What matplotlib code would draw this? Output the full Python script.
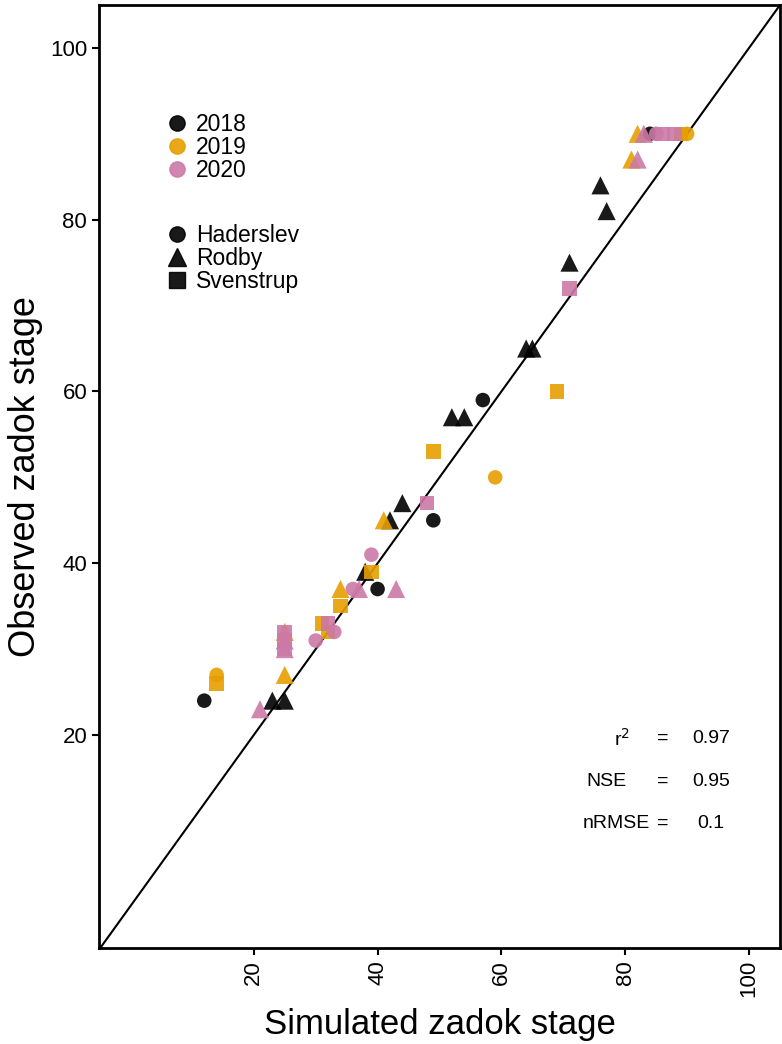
import matplotlib.pyplot as plt
from matplotlib.lines import Line2D

# simulated vs observed zadok stage, one list per year and site
h18_sim = [12, 40, 49, 57, 84]
h18_obs = [24, 37, 45, 59, 90]
r18_sim = [23, 25, 38, 42, 44, 52, 54, 64, 65, 71, 76, 77]
r18_obs = [24, 24, 39, 45, 47, 57, 57, 65, 65, 75, 84, 81]

h19_sim = [14, 59, 90]
h19_obs = [27, 50, 90]
r19_sim = [25, 25, 34, 41, 82, 81]
r19_obs = [32, 27, 37, 45, 90, 87]
s19_sim = [14, 31, 32, 34, 39, 49, 69, 89]
s19_obs = [26, 33, 32, 35, 39, 53, 60, 90]

h20_sim = [30, 33, 36, 39, 85]
h20_obs = [31, 32, 37, 41, 90]
r20_sim = [21, 25, 25, 37, 43, 83, 82]
r20_obs = [23, 31, 30, 37, 37, 90, 87]
s20_sim = [25, 25, 25, 32, 48, 71, 86, 88]
s20_obs = [32, 31, 30, 33, 47, 72, 90, 90]

years = ["2018", "2019", "2020"]
year_colors = ["#000000", "#E69F00", "#CC79A7"]
sites = ["Haderslev", "Rodby", "Svenstrup"]
site_markers = ["o", "^", "s"]

stat_names = ["r$^2$", "NSE", "nRMSE"]
stat_values = ["0.97", "0.95", "0.1"]

series = [
    (h18_sim, h18_obs, 0, 0), (r18_sim, r18_obs, 0, 1),
    (h19_sim, h19_obs, 1, 0), (r19_sim, r19_obs, 1, 1), (s19_sim, s19_obs, 1, 2),
    (h20_sim, h20_obs, 2, 0), (r20_sim, r20_obs, 2, 1), (s20_sim, s20_obs, 2, 2),
]
sizes = {"o": 110, "^": 170, "s": 110}

plt.rcParams['font.family'] = ['Liberation Sans', 'DejaVu Sans']

fig = plt.figure(figsize=(7.82, 10.44), dpi=100)
ax = fig.add_axes([99 / 782, 96 / 1044, 681 / 782, 943 / 1044])

for sim, obs, yi, si in series:
    m = site_markers[si]
    ax.scatter(sim, obs, marker=m, s=sizes[m], color=year_colors[yi],
               alpha=0.9, edgecolors='none', zorder=3)

ax.axline((0, 0), slope=1, color='black', lw=1.5, zorder=2)

ax.set_xlim(-5, 105)
ax.set_ylim(-4.8, 105)
ax.set_xticks([20, 40, 60, 80, 100])
ax.set_yticks([20, 40, 60, 80, 100])
ax.tick_params(axis='both', length=5, width=1.5, labelsize=16, color='black')
ax.tick_params(axis='x', labelrotation=90)
for sp in ax.spines.values():
    sp.set_linewidth(2)

ax.set_xlabel("Simulated zadok stage", fontsize=25, labelpad=8)
ax.set_ylabel("Observed zadok stage", fontsize=26, labelpad=5)

# stats block
stat_y = [19.6, 14.6, 9.7]
stat_x = [78.2, 73.7, 73.2]
for name, val, x, y in zip(stat_names, stat_values, stat_x, stat_y):
    ax.text(x, y, name, ha='left', va='center', fontsize=14)
    ax.text(86.0, y, "=", ha='center', va='center', fontsize=14)
    ax.text(93.9, y, val, ha='center', va='center', fontsize=14)

# two legends: colour by year, shape by site
year_handles = [Line2D([], [], marker='o', ls='none', color=c, markersize=11, alpha=0.9)
                for c in year_colors]
site_handles = [Line2D([], [], marker=m, ls='none', color=year_colors[0],
                       markersize=13 if m == '^' else 11, alpha=0.9)
                for m in site_markers]
leg_kw = dict(loc='upper left', frameon=False, bbox_transform=fig.transFigure,
              fontsize=16.5, handletextpad=0.35, labelspacing=0.0, borderaxespad=0,
              handlelength=1.0)
leg1 = ax.legend(year_handles, years, bbox_to_anchor=(156 / 782, 1 - 104 / 1044), **leg_kw)
ax.add_artist(leg1)
ax.legend(site_handles, sites, bbox_to_anchor=(156 / 782, 1 - 215 / 1044), **leg_kw)

fig.savefig("out.png", dpi=100)
